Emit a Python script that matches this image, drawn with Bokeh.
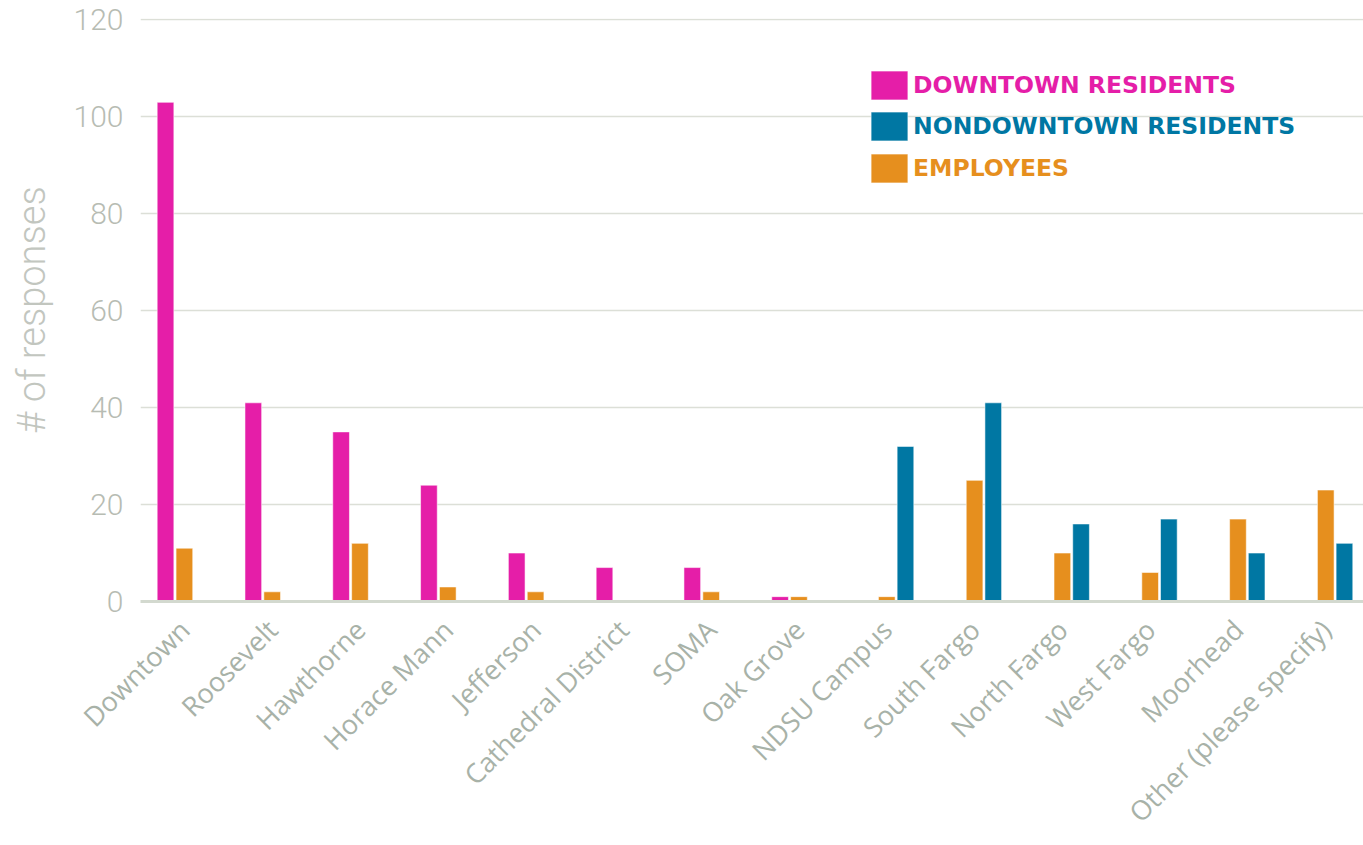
import math
from bokeh.plotting import figure
from bokeh.models import Range1d, FixedTicker, Legend, LegendItem, ColumnDataSource
from bokeh.transform import dodge
from bokeh.embed import file_html
from bokeh.resources import INLINE

categories = ["Downtown", "Roosevelt", "Hawthorne", "Horace Mann", "Jefferson",
              "Cathedral District", "SOMA", "Oak Grove", "NDSU Campus", "South Fargo",
              "North Fargo", "West Fargo", "Moorhead", "Other (please specify)"]
downtown_residents = [103, 41, 35, 24, 10, 7, 7, 1, 0, 0, 0, 0, 0, 0]
nondowntown_residents = [0, 0, 0, 0, 0, 0, 0, 0, 32, 41, 16, 17, 10, 12]
employees = [11, 2, 12, 3, 2, 0, 2, 1, 1, 25, 10, 6, 17, 23]
series_names = ["DOWNTOWN RESIDENTS", "NONDOWNTOWN RESIDENTS", "EMPLOYEES"]
series_colors = ["#e51ea8", "#0077a3", "#e68f1e"]
y_ticks = [0, 20, 40, 60, 80, 100, 120]

p = figure(width=1363, height=845, output_backend="svg", toolbar_location=None,
           x_range=Range1d(-0.5, 13.43), y_range=Range1d(0, 120.3),
           min_border_left=140, min_border_right=0, min_border_top=18, min_border_bottom=244)
p.outline_line_color = None
p.background_fill_color = "white"

def src(vals):
    xs = [i for i, v in enumerate(vals) if v > 0]
    ts = [v for v in vals if v > 0]
    return ColumnDataSource(dict(x=xs, top=ts))

offsets = [-0.215, 0.213, 0.0]
series_vals = [downtown_residents, nondowntown_residents, employees]
renderers = []
for vals, off, col in zip(series_vals, offsets, series_colors):
    r = p.vbar(x=dodge("x", off, range=p.x_range), top="top", bottom=0, width=0.19,
               source=src(vals), fill_color=col, line_color="white", line_alpha=0.55, line_width=1)
    renderers.append(r)

p.xaxis.ticker = FixedTicker(ticks=list(range(len(categories))))
p.xaxis.major_label_overrides = {i: c for i, c in enumerate(categories)}
p.xaxis.major_label_orientation = math.pi / 4
p.xaxis.major_label_text_font = "Open Sans"
p.xaxis.major_label_text_font_size = "27px"
p.xaxis.major_label_text_color = "#a8b2a8"
p.xaxis.major_label_standoff = 17
p.xaxis.major_tick_line_color = None
p.xaxis.minor_tick_line_color = None
p.xaxis.axis_line_color = "#d3d9cf"
p.xaxis.axis_line_width = 3

p.yaxis.ticker = FixedTicker(ticks=y_ticks)
p.yaxis.axis_line_color = None
p.yaxis.major_tick_line_color = None
p.yaxis.minor_tick_line_color = None
p.yaxis.major_label_text_font = "Roboto Light"
p.yaxis.major_label_text_font_size = "30px"
p.yaxis.major_label_text_color = "#b7bcb3"
p.yaxis.major_label_standoff = 11
p.yaxis.axis_label = "# of responses"
p.yaxis.axis_label_text_font = "Roboto Light"
p.yaxis.axis_label_text_font_style = "normal"
p.yaxis.axis_label_text_font_size = "38px"
p.yaxis.axis_label_text_color = "#c2c6bf"
p.yaxis.axis_label_standoff = 17

p.xgrid.grid_line_color = None
p.ygrid.ticker = FixedTicker(ticks=y_ticks)
p.ygrid.grid_line_color = "#dcdfd7"
p.ygrid.grid_line_width = 1.5

leg_y = [498, 457, 415]
for r, name, col, ly in zip(renderers, series_names, series_colors, leg_y):
    leg = Legend(items=[LegendItem(label=name, renderers=[r])], location=(726, ly),
                 glyph_width=46, glyph_height=36, label_height=36, label_width=10,
                 label_standoff=1, padding=0, margin=0, spacing=0,
                 border_line_alpha=0, background_fill_alpha=0,
                 label_text_color=col, label_text_font="DejaVu Sans",
                 label_text_font_style="bold", label_text_font_size="23.5px",
                 label_text_baseline="middle")
    p.add_layout(leg)

open("out.html", "w").write(file_html(p, INLINE))
